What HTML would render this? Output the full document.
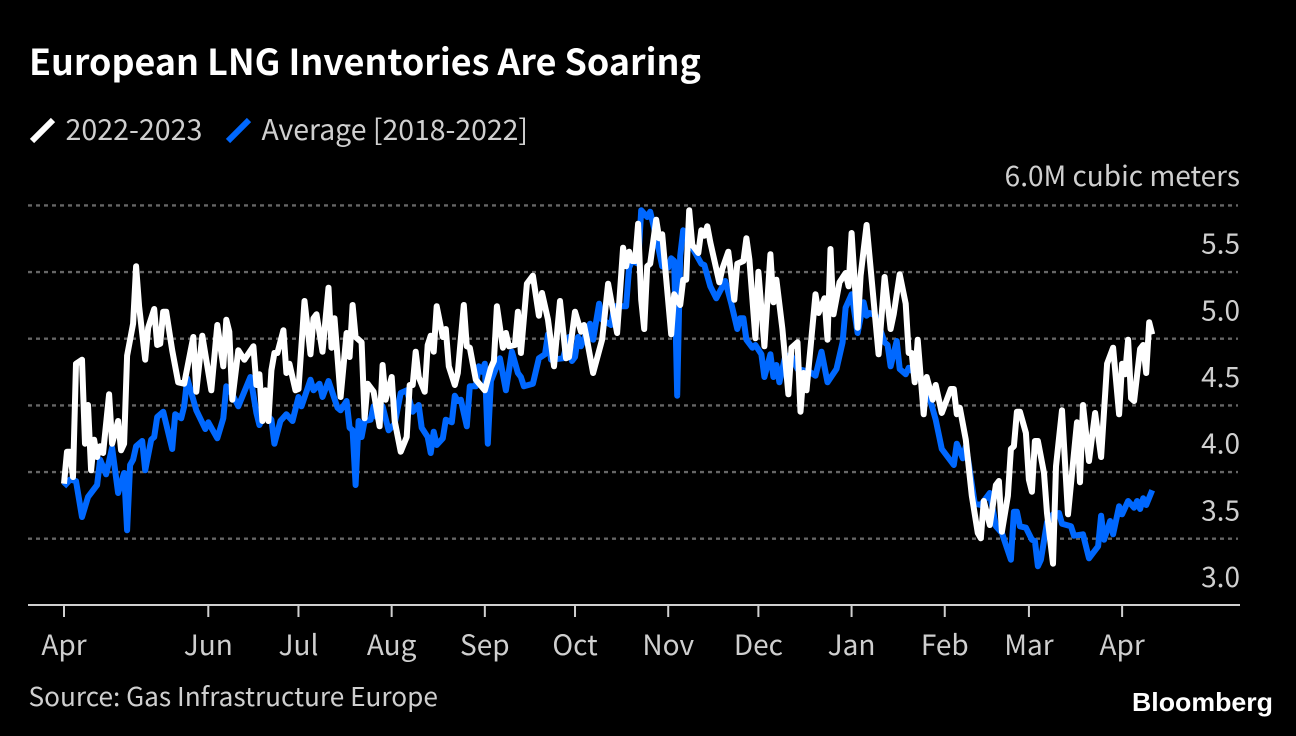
<!DOCTYPE html>
<html lang="en">
<head>
<meta charset="utf-8">
<title>European LNG Inventories Are Soaring</title>
<style>
html,body{margin:0;padding:0;background:#000;width:1296px;height:736px;overflow:hidden}
svg{display:block}
text{font-family:"Noto Sans CJK JP","Liberation Sans",sans-serif}
</style>
</head>
<body>
<svg id="chart" width="1296" height="736" viewBox="0 0 1296 736" xmlns="http://www.w3.org/2000/svg">
  <rect x="0" y="0" width="1296" height="736" fill="#000"/>
  <text x="29" y="75" font-size="35.85" font-weight="700" fill="#fff">European LNG Inventories Are Soaring</text>
  <g>
    <line x1="32" y1="141" x2="53" y2="120" stroke="#fff" stroke-width="6"/>
    <text x="65.5" y="140" font-size="28.6" fill="#cfcfcf">2022-2023</text>
    <line x1="228" y1="141" x2="249" y2="120" stroke="#0068ff" stroke-width="6"/>
    <text x="261.5" y="140" font-size="28.4" fill="#cfcfcf">Average [2018-2022]</text>
  </g>
  <text x="1240" y="186" font-size="28" fill="#cfcfcf" text-anchor="end">6.0M cubic meters</text>
  <g id="grid"></g>
  <g id="yticks"></g>
  <g id="series"></g>
  <line x1="28" y1="605" x2="1240" y2="605" stroke="#cfcfcf" stroke-width="2"/>
  <g id="xticks"></g>
  <text x="28.5" y="706" font-size="26.2" fill="#cfcfcf">Source: Gas Infrastructure Europe</text>
  <text x="1132" y="711" font-size="26" font-weight="700" fill="#fff" textLength="141" lengthAdjust="spacingAndGlyphs" style="font-family:'Liberation Sans',sans-serif">Bloomberg</text>
</svg>
<script>
const monthLabels = ["Apr","Jun","Jul","Aug","Sep","Oct","Nov","Dec","Jan","Feb","Mar","Apr"];
const monthDays = [0,48,78,109,140,170,201,231,262,293,321,352];
const gridValues = [6.0,5.5,5.0,4.5,4.0,3.5];
const yTickValues = [5.5,5.0,4.5,4.0,3.5,3.0];
const yTickLabels = ["5.5","5.0","4.5","4.0","3.5","3.0"];

const seasonDays = [
0,1,2,3,4,6,7,8,9,10,
11,12,13,15,16,18,19,20,21,23,
24,25,27,28,30,31,32,33,34,36,
38,40,43,44,46,49,51,53,54,55,
56,58,60,63,64,65,66,67,68,69,
70,71,73,74,75,77,78,80,82,83,
84,86,88,89,90,92,94,95,96,97,
99,100,101,103,105,106,107,109,110,112,
114,115,116,117,118,120,121,122,123,124,
126,127,128,130,131,133,134,135,137,140,
142,143,144,146,147,148,150,151,152,154,
156,158,159,161,163,165,167,168,170,172,
173,174,176,179,181,184,186,187,188,189,
190,191,192,193,194,195,197,198,199,202,
203,205,206,207,208,209,211,212,213,214,
215,218,219,221,223,224,226,227,228,230,
231,233,235,236,237,239,241,242,244,245,
246,247,250,251,253,254,255,256,258,260,
261,262,264,265,267,271,273,275,276,278,
280,281,282,283,284,286,287,289,290,292,
295,296,297,298,300,302,304,305,306,308,
310,311,312,314,315,316,317,318,320,321,
322,323,324,326,327,329,330,332,334,337,
338,339,341,343,345,347,349,351,352,353,
354,355,356,358,359,360,361,362];
const seasonValues = [
3.91,4.15,4.15,3.96,4.81,4.84,4.21,4.5,4.01,4.24,
4.11,4.19,4.14,4.58,4.21,4.38,4.16,4.21,4.87,5.11,
5.54,5.24,4.84,5.08,5.22,4.95,4.96,5.2,5.2,4.91,
4.67,4.66,5.01,4.6,5.02,4.61,5.1,4.79,5.14,5.05,
4.54,4.91,4.84,4.94,4.65,4.73,4.38,4.61,4.38,4.76,
4.89,4.89,5.06,4.74,4.81,4.61,4.62,5.28,4.88,5.15,
5.18,4.9,5.38,4.93,5.15,4.56,5.04,4.86,5.25,5.01,
4.97,4.4,4.66,4.6,4.34,4.8,4.54,4.71,4.38,4.15,
4.26,4.65,4.65,4.9,4.71,4.6,4.95,5.02,4.9,5.24,
5.01,5.07,4.79,4.65,4.74,5.25,4.94,4.93,4.69,4.61,
4.78,4.83,5.24,4.93,5.04,4.94,4.95,5.2,4.89,5.41,
5.47,5.17,5.34,5.14,4.79,5.28,4.85,4.86,5.2,5.05,
5.1,4.99,4.74,4.99,5.41,5.04,5.68,5.54,5.65,5.58,
5.58,5.86,5.29,5.07,5.54,5.56,5.89,5.75,5.78,5.03,
5.33,5.25,5.44,5.44,5.96,5.7,5.64,5.81,5.77,5.84,
5.72,5.42,5.52,5.65,5.29,5.56,5.58,5.75,5.59,5.0,
5.5,4.94,5.63,5.27,5.44,5.07,4.58,4.93,4.97,4.45,
4.74,4.61,5.33,5.19,5.3,4.99,5.67,5.18,5.42,5.49,
5.39,5.79,5.08,5.47,5.85,4.88,5.46,5.07,5.18,5.48,
5.26,4.89,4.89,4.67,4.99,4.43,4.71,4.54,4.65,4.44,
4.62,4.62,4.43,4.48,4.24,3.82,3.54,3.5,3.78,3.6,
3.9,3.93,3.55,3.82,4.17,4.19,4.45,4.45,4.29,3.94,
3.85,4.23,4.23,3.99,3.69,3.31,4.04,4.46,3.68,4.37,
3.92,4.5,4.08,4.44,4.11,4.81,4.93,4.43,4.81,4.73,
4.99,4.55,4.53,4.92,4.95,4.74,5.12,5.03];

const averageDays = [
0,2,4,6,8,11,12,14,16,18,
20,21,22,23,24,26,27,29,30,31,
33,36,37,39,40,41,44,47,48,51,
53,54,56,58,62,64,65,67,69,70,
72,74,76,78,79,82,83,85,86,88,
91,92,94,95,96,97,98,99,100,102,
103,104,106,108,110,112,114,116,118,119,
121,122,123,124,126,127,129,130,131,132,
134,135,137,138,139,140,141,142,145,147,
149,151,152,153,156,158,160,161,162,166,
168,169,170,171,172,175,176,178,179,182,
183,187,188,189,191,192,194,195,197,199,
201,202,203,204,205,206,209,212,213,215,
217,220,222,224,225,226,227,229,230,232,
233,235,236,237,238,240,242,244,248,250,
252,254,257,259,260,262,264,266,267,268,
270,273,274,275,277,278,280,281,284,286,
288,290,292,296,297,299,300,301,303,305,
308,310,312,315,316,317,318,320,322,323,
324,325,327,329,331,332,335,336,339,341,
344,345,346,348,349,351,352,354,356,357,
358,359,360,362];
const averageValues = [
3.89,3.94,3.93,3.66,3.81,3.9,4.09,3.98,4.18,3.84,
3.99,3.56,4.05,4.09,4.19,4.23,4.01,4.24,4.26,4.41,
4.45,4.17,4.43,4.4,4.49,4.7,4.46,4.32,4.37,4.25,
4.4,4.64,4.58,4.49,4.71,4.44,4.35,4.44,4.39,4.21,
4.38,4.43,4.38,4.56,4.49,4.69,4.61,4.66,4.56,4.68,
4.48,4.46,4.53,4.33,4.31,3.9,4.38,4.26,4.38,4.39,
4.49,4.41,4.49,4.31,4.36,4.59,4.61,4.45,4.5,4.33,
4.26,4.14,4.3,4.2,4.25,4.39,4.37,4.57,4.53,4.54,
4.34,4.64,4.64,4.79,4.75,4.81,4.21,4.68,4.85,4.61,
4.9,4.74,4.71,4.64,4.66,4.85,4.88,5.03,4.84,4.85,
5.01,4.83,4.86,5.01,4.94,5.11,4.99,5.26,5.14,5.1,
5.24,5.24,5.53,5.58,5.56,5.96,5.91,5.95,5.76,5.54,
5.53,5.6,5.58,4.57,5.62,5.81,5.68,5.56,5.55,5.39,
5.3,5.43,5.26,5.07,5.15,5.15,4.99,4.93,4.95,4.88,
4.71,4.88,4.71,4.8,4.67,4.87,4.87,4.77,4.75,4.72,
4.9,4.67,4.77,4.97,5.23,5.33,5.04,5.27,5.17,5.19,
5.17,4.97,4.95,4.79,4.98,4.77,4.73,4.78,4.72,4.65,
4.55,4.39,4.17,4.05,4.21,4.1,4.19,4.06,3.76,3.75,
3.84,3.59,3.54,3.34,3.7,3.7,3.59,3.58,3.49,3.48,
3.29,3.34,3.62,3.68,3.69,3.61,3.59,3.52,3.53,3.35,
3.44,3.67,3.49,3.63,3.53,3.74,3.68,3.78,3.73,3.78,
3.72,3.8,3.75,3.86];

const NS = "http://www.w3.org/2000/svg";
function xScale(day){ return 64 + day * 3.006; }
function yScale(value){ return 605 - (value - 3) * (400 / 3); }

const gridGroup = document.getElementById("grid");
gridValues.forEach(function(value){
  const line = document.createElementNS(NS, "line");
  
  
  line.setAttribute("x1", 28);
  line.setAttribute("x2", 1238);
  line.setAttribute("y1", yScale(value) + 0.4);
  line.setAttribute("y2", yScale(value) + 0.4);
  line.setAttribute("stroke", "#666666");
  line.setAttribute("stroke-width", "2.4");
  line.setAttribute("stroke-dasharray", "4 4");
  gridGroup.appendChild(line);
});

const yGroup = document.getElementById("yticks");
yTickValues.forEach(function(value, i){
  const label = document.createElementNS(NS, "text");
  
  
  label.setAttribute("x", 1240);
  label.setAttribute("y", yScale(value) - 18);
  label.setAttribute("text-anchor", "end");
  label.setAttribute("font-size", "28");
  label.setAttribute("fill", "#cfcfcf");
  label.textContent = yTickLabels[i];
  yGroup.appendChild(label);
});

const xGroup = document.getElementById("xticks");
monthDays.forEach(function(day, i){
  const tick = document.createElementNS(NS, "line");
  
  
  tick.setAttribute("x1", xScale(day));
  tick.setAttribute("x2", xScale(day));
  tick.setAttribute("y1", 605);
  tick.setAttribute("y2", 617);
  tick.setAttribute("stroke", "#cfcfcf");
  tick.setAttribute("stroke-width", "2");
  xGroup.appendChild(tick);
  const label = document.createElementNS(NS, "text");
  
  
  label.setAttribute("x", xScale(day));
  label.setAttribute("y", 655);
  label.setAttribute("text-anchor", "middle");
  label.setAttribute("font-size", "28");
  label.setAttribute("fill", "#cfcfcf");
  label.textContent = monthLabels[i];
  xGroup.appendChild(label);
});

function linePath(days, values){
  return days.map(function(day, i){
    return (i ? "L" : "M") + xScale(day).toFixed(1) + " " + yScale(values[i]).toFixed(1);
  }).join(" ");
}

const seriesGroup = document.getElementById("series");
const averageLine = document.createElementNS(NS, "path");


averageLine.setAttribute("d", linePath(averageDays, averageValues));
averageLine.setAttribute("fill", "none");
averageLine.setAttribute("stroke", "#0068ff");
averageLine.setAttribute("stroke-width", "6");
averageLine.setAttribute("stroke-linejoin", "round");
seriesGroup.appendChild(averageLine);

const seasonLine = document.createElementNS(NS, "path");


seasonLine.setAttribute("d", linePath(seasonDays, seasonValues));
seasonLine.setAttribute("fill", "none");
seasonLine.setAttribute("stroke", "#ffffff");
seasonLine.setAttribute("stroke-width", "6");
seasonLine.setAttribute("stroke-linejoin", "round");
seriesGroup.appendChild(seasonLine);
</script>
</body>
</html>
